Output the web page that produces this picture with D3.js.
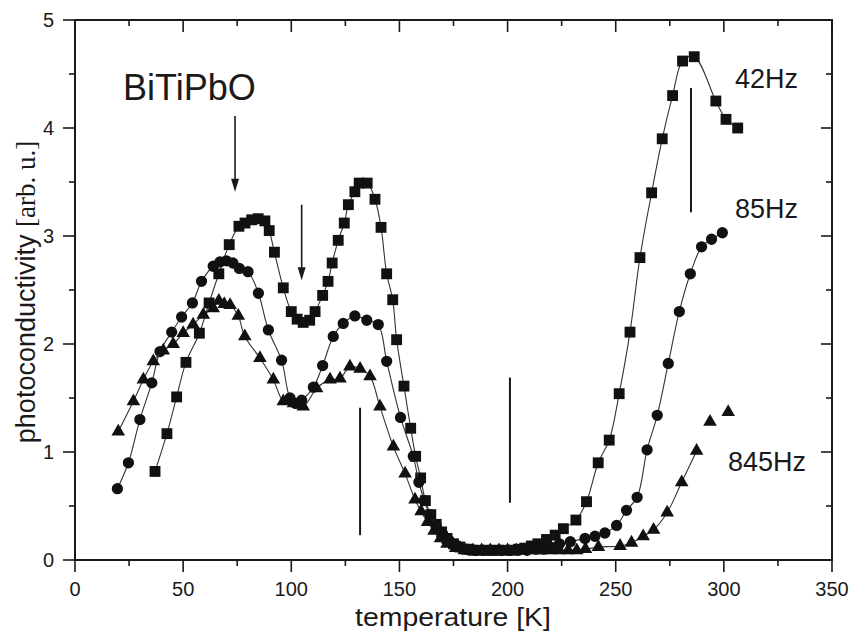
<!DOCTYPE html>
<html>
<head>
<meta charset="utf-8">
<script src="https://cdn.jsdelivr.net/npm/d3@7"></script>
<style>
  body { margin: 0; background: #fff; }
  svg { display: block; }
</style>
</head>
<body>
<svg id="chart" width="854" height="632"></svg>
<script>
// 42Hz (squares)
const t42 = [37, 42.5, 47, 51.3, 57.5, 62, 66.5, 71.3, 75.8, 78.6, 81.7, 84.7, 87.8, 89.8, 92.2, 96.3,
  100, 102.7, 105.5, 108.5, 111, 114.5, 117, 118.9, 121.7, 124.5, 126.4, 129.4, 131.4, 135.1, 138.7,
  141.5, 144.1, 146.9, 148.7, 152.1, 155.2, 157.5, 159.8, 162, 164.5, 167, 169.5, 172, 175, 178, 181,
  184, 187, 190, 193, 196, 199, 202, 205, 208, 211, 214, 218, 222, 225.8, 231.6, 236.5, 241.9, 247,
  251.6, 256.6, 261.2, 266.6, 271.5, 276.3, 280.9, 286.3, 296.3, 301, 306.4]
const v42 = [0.82, 1.17, 1.51, 1.83, 2.1, 2.38, 2.65, 2.92, 3.09, 3.12, 3.15, 3.16, 3.14, 3.05, 2.85, 2.52,
  2.3, 2.23, 2.2, 2.22, 2.3, 2.45, 2.58, 2.75, 2.96, 3.12, 3.29, 3.41, 3.49, 3.49, 3.34,
  3.08, 2.65, 2.41, 2.04, 1.61, 1.22, 0.96, 0.76, 0.55, 0.42, 0.33, 0.26, 0.2, 0.15, 0.12, 0.1,
  0.09, 0.09, 0.09, 0.09, 0.09, 0.09, 0.09, 0.1, 0.11, 0.13, 0.15, 0.19, 0.23, 0.29, 0.37, 0.54, 0.9, 1.11,
  1.54, 2.11, 2.8, 3.4, 3.9, 4.3, 4.62, 4.66, 4.25, 4.08, 4.0]

// 85Hz (circles)
const t85 = [19.6, 24.7, 30, 35.5, 39.3, 44.7, 49.3, 54.3, 58.5, 63.9, 67, 70, 73, 76, 80, 84.8, 89.4,
  95.5, 99.4, 102, 104.8, 110.2, 114.5, 119.4, 124, 129.4, 134.9, 140.2, 144.1, 150.5, 156.4, 159,
  161.5, 164, 167, 170, 173, 177, 181, 185, 189, 193, 197, 201, 205, 209, 213, 216.5, 220, 224, 229,
  235.8, 240.4, 245, 250.4, 255, 259.9, 264.5, 269.2, 274.3, 279.4, 284.5, 289.7, 294.3, 299.3]
const v85 = [0.66, 0.9, 1.3, 1.64, 1.93, 2.11, 2.25, 2.38, 2.58, 2.72, 2.76, 2.77, 2.75, 2.7, 2.67, 2.47, 2.13,
  1.85, 1.5, 1.45, 1.48, 1.6, 1.8, 2.07, 2.19, 2.26, 2.22, 2.18, 1.84, 1.32, 0.96, 0.72,
  0.55, 0.42, 0.32, 0.24, 0.18, 0.13, 0.1, 0.09, 0.09, 0.09, 0.09, 0.09, 0.09, 0.09, 0.1, 0.1, 0.12, 0.15, 0.17,
  0.2, 0.22, 0.25, 0.32, 0.46, 0.58, 1.02, 1.34, 1.82, 2.3, 2.65, 2.9, 2.97, 3.03]

// 845Hz (triangles)
const t845 = [20, 27, 31.6, 36.2, 40.8, 45.4, 50, 54.6, 59.3, 63.9, 66.5, 69, 71.7, 75.5, 78.5, 85.5, 91.7,
  96.3, 101, 105.5, 111.7, 117.9, 122.5, 127.1, 131.8, 136.4, 141, 147.2, 152.6, 157.2, 160, 163, 166,
  169, 172, 176, 180, 184, 188, 192, 196, 200, 204, 208, 212, 216, 220, 224, 228, 232, 236, 242, 252,
  257.3, 262.7, 267.5, 273.8, 280.5, 287.4, 293.6, 302]
const v845 = [1.19, 1.47, 1.67, 1.84, 1.94, 2.0, 2.1, 2.18, 2.27, 2.33, 2.4, 2.37, 2.36, 2.26, 2.07, 1.87, 1.67,
  1.47, 1.45, 1.42, 1.59, 1.67, 1.68, 1.79, 1.77, 1.7, 1.42, 1.05, 0.8, 0.56, 0.45, 0.35, 0.27,
  0.2, 0.15, 0.11, 0.09, 0.09, 0.09, 0.09, 0.09, 0.09, 0.09, 0.09, 0.09, 0.09, 0.09, 0.09, 0.09, 0.09, 0.1, 0.12, 0.13,
  0.16, 0.22, 0.28, 0.44, 0.72, 1.01, 1.28, 1.37]

const seriesNames = ['42Hz', '85Hz', '845Hz']
const xTicks = [0, 50, 100, 150, 200, 250, 300, 350]
const yTicks = [0, 1, 2, 3, 4, 5]

// annotation marks: [temperature, from, to]
const arrows = [[74, 4.11, 3.41], [104.8, 3.29, 2.59]]
const bars = [[131.8, 1.41, 0.23], [201.1, 1.69, 0.53], [284.8, 4.37, 3.22]]

const svg = d3.select('#chart')
const padL = 75, padR = 832, padT = 20, padB = 560
const x = d3.scaleLinear().domain([0, 350]).range([padL, padR])
const y = d3.scaleLinear().domain([0, 5]).range([padB, padT])
const ink = '#1a1a1a'
const sans = '"Liberation Sans", Arial, sans-serif'

const series = [
  { name: seriesNames[0], t: t42, v: v42, sym: d3.symbolSquare, size: 118, lineN: t42.length },
  { name: seriesNames[1], t: t85, v: v85, sym: d3.symbolCircle, size: 100, lineN: t85.length },
  { name: seriesNames[2], t: t845, v: v845, sym: d3.symbolTriangle, size: 80, lineN: t845.length - 2 }
]

// frame
svg.append('rect')
  .attr('x', padL).attr('y', padT)
  .attr('width', padR - padL).attr('height', padB - padT)
  .attr('fill', 'none').attr('stroke', ink).attr('stroke-width', 2)

// ticks
const g = svg.append('g').attr('stroke', ink).attr('stroke-width', 1.6)
d3.range(0, 351, 25).forEach(t => {
  const major = t % 50 === 0
  g.append('line').attr('x1', x(t)).attr('x2', x(t)).attr('y1', padB).attr('y2', padB + (major ? 12 : 6))
  g.append('line').attr('x1', x(t)).attr('x2', x(t)).attr('y1', padT).attr('y2', padT + (major ? 12 : 6))
})
d3.range(0, 5.01, 0.5).forEach(v => {
  const major = Math.abs(v - Math.round(v)) < 0.01
  g.append('line').attr('y1', y(v)).attr('y2', y(v)).attr('x1', padL).attr('x2', padL - (major ? 12 : 6))
  g.append('line').attr('y1', y(v)).attr('y2', y(v)).attr('x1', padR).attr('x2', padR - (major ? 11 : 6))
})

svg.append('g').selectAll('text').data(xTicks).join('text')
  .attr('x', d => x(d)).attr('y', 596)
  .attr('text-anchor', 'middle').attr('font-family', sans).attr('font-size', 20).attr('fill', ink)
  .text(d => d)
svg.append('g').selectAll('text').data(yTicks).join('text')
  .attr('x', 54).attr('y', d => y(d) + 7)
  .attr('text-anchor', 'end').attr('font-family', sans).attr('font-size', 20).attr('fill', ink)
  .text(d => d)

// axis titles
svg.append('text')
  .attr('x', 453).attr('y', 626).attr('text-anchor', 'middle')
  .attr('font-family', sans).attr('font-size', 26).attr('fill', ink)
  .attr('textLength', 196).attr('lengthAdjust', 'spacingAndGlyphs')
  .text('temperature [K]')
const yl = svg.append('text')
  .attr('transform', 'translate(35,292) rotate(-90)').attr('text-anchor', 'middle')
  .attr('font-size', 27).attr('fill', ink)
yl.append('tspan').attr('font-family', sans).text('photoconductivity ')
yl.append('tspan').attr('font-family', '"Liberation Serif", "Times New Roman", serif').text('[arb. u.]')

// curves and markers
const line = d3.line().x(d => x(d[0])).y(d => y(d[1])).curve(d3.curveCatmullRom.alpha(0.5))
series.forEach(s => {
  const pts = s.t.map((t, i) => [t, s.v[i]])
  svg.append('path').attr('d', line(pts.slice(0, s.lineN)))
    .attr('fill', 'none').attr('stroke', '#333').attr('stroke-width', 1.1)
  svg.append('g').selectAll('path').data(pts).join('path')
    .attr('transform', d => `translate(${x(d[0])},${y(d[1])})`)
    .attr('d', d3.symbol().type(s.sym).size(s.size))
    .attr('fill', '#111')
})

// annotations
arrows.forEach(a => {
  const ax = x(a[0]), y0 = y(a[1]), y1 = y(a[2])
  svg.append('line').attr('x1', ax).attr('x2', ax).attr('y1', y0).attr('y2', y1 - 8)
    .attr('stroke', ink).attr('stroke-width', 1.6)
  svg.append('path').attr('d', `M${ax - 4},${y1 - 13} L${ax + 4},${y1 - 13} L${ax},${y1} Z`).attr('fill', ink)
})
bars.forEach(b => {
  svg.append('line').attr('x1', x(b[0])).attr('x2', x(b[0])).attr('y1', y(b[1])).attr('y2', y(b[2]))
    .attr('stroke', ink).attr('stroke-width', 2)
})

svg.append('text').attr('x', 123).attr('y', 100)
  .attr('font-family', sans).attr('font-size', 36).attr('fill', ink).text('BiTiPbO')

const labelPos = [[735, 88], [735, 218], [728, 471]]
seriesNames.forEach((n, i) => {
  svg.append('text').attr('x', labelPos[i][0]).attr('y', labelPos[i][1])
    .attr('font-family', sans).attr('font-size', 27).attr('fill', ink).text(n)
})
</script>
</body>
</html>
